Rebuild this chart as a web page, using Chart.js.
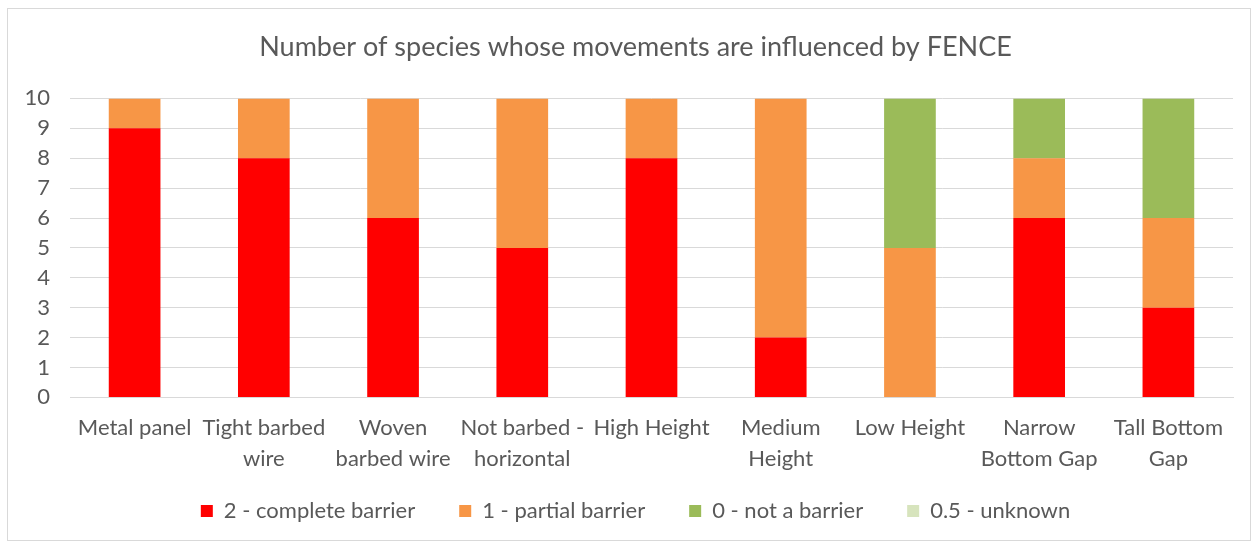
<!DOCTYPE html>
<html>
<head>
<meta charset="utf-8">
<script src="https://cdn.jsdelivr.net/npm/chart.js@4.4.1/dist/chart.umd.min.js"></script>
<style>
  body { margin: 0; background: #fff; }
  #wrap { position: absolute; left: 7px; top: 8px; width: 1242px; height: 531px; border: 1px solid #d9d9d9; }
</style>
</head>
<body>
<div id="wrap"><canvas id="fenceChart"></canvas></div>
<script>
const categories = [
    "Metal panel", ["Tight barbed", "wire"], ["Woven", "barbed wire"], ["Not barbed -", "horizontal"],
    "High Height", ["Medium", "Height"], "Low Height", ["Narrow", "Bottom Gap"], ["Tall Bottom", "Gap"]
];
const complete = [9, 8, 6, 5, 8, 2, 0, 6, 3];
const partial = [1, 2, 4, 5, 2, 8, 5, 2, 3];
const notBarrier = [0, 0, 0, 0, 0, 0, 5, 2, 4];
const unknown = [0, 0, 0, 0, 0, 0, 0, 0, 0];
const yTicks = [0, 1, 2, 3, 4, 5, 6, 7, 8, 9, 10];

const textColor = "#595959";
const gridColor = "#d9d9d9";
const font = "Lato, 'Open Sans', sans-serif";
const legendGap = 44;
const legendExtra = legendGap - 14;

// scale labels are clipped to their box; after layout give the boxes back the room we took
const labelRoom = {
    id: "labelRoom",
    afterLayout(chart) {
        const x = chart.scales.x;
        x.bottom += legendExtra;
        x.height += legendExtra;
        const y = chart.scales.y;
        y.left -= 25;
        y.width += 25;
    },
};

const ctx = document.getElementById("fenceChart");

new Chart(ctx, {
    type: "bar",
    data: {
        labels: categories,
        datasets: [{
            label: "2 - complete barrier",
            data: complete,
            backgroundColor: "#ff0000",
        }, {
            label: "1 - partial barrier",
            data: partial,
            backgroundColor: "#f79646",
        }, {
            label: "0 - not a barrier",
            data: notBarrier,
            backgroundColor: "#9bbb59",
        }, {
            label: "0.5 - unknown",
            data: unknown,
            backgroundColor: "#d7e4bd",
        }],
    },
    plugins: [labelRoom],
    options: {
        responsive: true,
        maintainAspectRatio: false,
        animation: false,
        layout: { padding: { top: 12, right: 17, bottom: 8, left: 30 } },
        datasets: { bar: { barPercentage: 0.4, categoryPercentage: 1 } },
        plugins: {
            title: {
                display: true,
                text: "Number of species whose movements are influenced by FENCE",
                color: textColor,
                font: { family: font, size: 27, weight: "normal" },
                padding: { top: 10, bottom: 35 },
            },
            legend: {
                position: "bottom",
                labels: {
                    color: textColor,
                    font: { family: font, size: 22 },
                    boxWidth: 12,
                    boxHeight: 12,
                    padding: legendGap,
                },
            },
            tooltip: { enabled: false },
        },
        scales: {
            x: {
                stacked: true,
                grid: { display: false },
                border: { color: gridColor },
                // the wide legend padding also adds empty space above it; take most of it back here
                afterFit: (scale) => { scale.height -= legendExtra - 5; },
                ticks: {
                    color: textColor,
                    font: { family: font, size: 22, lineHeight: 1.4 },
                    maxRotation: 0,
                    autoSkip: false,
                    padding: 7,
                },
            },
            y: {
                stacked: true,
                min: 0,
                max: 10,
                afterFit: (scale) => { scale.width = 32; },
                afterBuildTicks: (scale) => { scale.ticks = yTicks.map(v => ({ value: v })); },
                grid: { color: gridColor, drawTicks: false },
                border: { display: false },
                ticks: {
                    color: textColor,
                    font: { family: font, size: 22 },
                    padding: 20,
                },
            },
        },
    },
});
</script>
</body>
</html>
